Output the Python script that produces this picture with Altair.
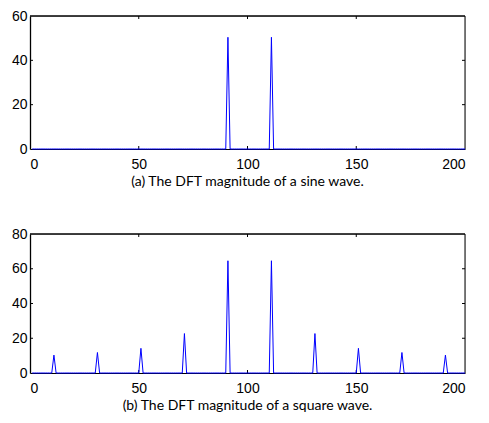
import altair as alt
import pandas as pd

# ---- data ----
bins = list(range(1, 201))          # DFT bin index as plotted (1..200)
x_ticks = [0, 50, 100, 150, 200]

sine_peak_bins = [91, 111]
sine_peak_vals = [50.4, 50.4]
sine_yticks = [0, 20, 40, 60]
sine_ymax = 60

square_peak_bins = [11, 31, 51, 71, 91, 111, 131, 151, 171, 191]
square_peak_vals = [10.3, 11.8, 14.2, 22.7, 64.6, 64.6, 22.7, 14.2, 11.8, 10.3]
square_yticks = [0, 20, 40, 60, 80]
square_ymax = 80

captions = [
    "(a) The DFT magnitude of a sine wave.",
    "(b) The DFT magnitude of a square wave.",
]

W = 435
H1 = 133
H2 = 139
TICK = 3
LABEL_FONT = "Liberation Sans"
LABEL_SIZE = 14
CAPTION_FONT = "Lato"
CAPTION_SIZE = 14


def panel(peak_bins, peak_vals, ymax, yticks, caption, H):
    mags = dict(zip(peak_bins, peak_vals))
    df = pd.DataFrame({"k": bins, "m": [mags.get(k, 0.0) for k in bins]})
    xs = alt.Scale(domain=[0, 200], nice=False, zero=False)
    ys = alt.Scale(domain=[0, ymax], nice=False)
    xa = alt.Axis(values=x_ticks, title=None, ticks=False, tickSize=0,
                  labelPadding=8, domain=True, domainColor="black",
                  domainWidth=1, grid=False, labelAngle=0, minExtent=0,
                  labelFont=LABEL_FONT, labelFontSize=LABEL_SIZE, labelColor="black")
    ya = alt.Axis(values=yticks, title=None, ticks=False, tickSize=0,
                  labelPadding=3, domain=True, domainColor="black",
                  domainWidth=1.3, grid=False, minExtent=0,
                  labelFont=LABEL_FONT, labelFontSize=LABEL_SIZE, labelColor="black")

    line = alt.Chart(df).mark_line(color="#0000FF", strokeWidth=1).encode(
        x=alt.X("k:Q", scale=xs, axis=xa),
        y=alt.Y("m:Q", scale=ys, axis=ya),
    )

    one = pd.DataFrame({"a": [0]})
    top_border = alt.Chart(one).mark_rule(color="black", strokeWidth=1.3).encode(
        x=alt.value(0), x2=alt.value(W), y=alt.value(0))
    right_border = alt.Chart(one).mark_rule(color="black", strokeWidth=1).encode(
        x=alt.value(W), y=alt.value(0), y2=alt.value(H))

    xt = pd.DataFrame({"k": x_ticks[1:-1]})
    yt = pd.DataFrame({"m": yticks[1:-1]})
    bx = alt.Chart(xt).mark_rule(color="black").encode(
        x=alt.X("k:Q", scale=xs, axis=xa), y=alt.value(H), y2=alt.value(H - TICK))
    tx = alt.Chart(xt).mark_rule(color="black").encode(
        x=alt.X("k:Q", scale=xs, axis=xa), y=alt.value(0), y2=alt.value(TICK))
    ly = alt.Chart(yt).mark_rule(color="black").encode(
        y=alt.Y("m:Q", scale=ys, axis=ya), x=alt.value(0), x2=alt.value(TICK))
    ry = alt.Chart(yt).mark_rule(color="black").encode(
        y=alt.Y("m:Q", scale=ys, axis=ya), x=alt.value(W - TICK), x2=alt.value(W))

    return alt.layer(top_border, right_border, bx, tx, ly, ry, line).properties(
        width=W, height=H,
        title=alt.TitleParams(text=caption, orient="bottom", anchor="middle",
                              frame="group", font=CAPTION_FONT, fontSize=CAPTION_SIZE,
                              fontWeight="normal", color="black", offset=4),
    )


p1 = panel(sine_peak_bins, sine_peak_vals, sine_ymax, sine_yticks, captions[0], H1)
p2 = panel(square_peak_bins, square_peak_vals, square_ymax, square_yticks, captions[1], H2)

chart = alt.vconcat(p1, p2, spacing=36).properties(
    padding={"left": 2, "top": 0, "right": 0, "bottom": 0}
).configure_view(stroke=None).configure(background="white")

chart.save("out.html", embed_options={"renderer": "svg", "actions": False})
